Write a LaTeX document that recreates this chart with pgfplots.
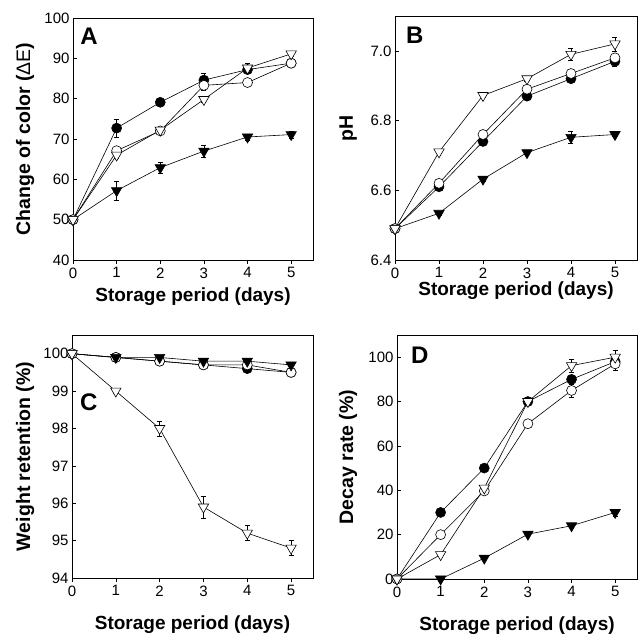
\documentclass[border=0pt]{standalone}
\usepackage{fontspec}
\setmainfont{Liberation Sans}
\usepackage{pgfplots}
\pgfplotsset{compat=1.18}
\tikzset{letter/.style={anchor=north west, inner sep=0pt, font=\fontsize{24}{24}\selectfont\bfseries}}
\pgfplotsset{
  panel/.style={
    scale only axis, clip=false,
    xmin=0, xmax=5.5, xtick={0,1,2,3,4,5},
    xtick pos=bottom, ytick pos=left,
    xtick align=outside, ytick align=inside,
    major tick length=4pt,
    axis line style={line width=0.6pt},
    tick style={line width=0.6pt, black},
    /pgf/number format/assume math mode=true,
    ticklabel style={font=\fontsize{15}{15}\selectfont},
    every axis x label/.style={at={(axis description cs:0.5,0)}, anchor=base, font=\fontsize{19}{19}\selectfont\bfseries},
    every axis y label/.style={at={(axis description cs:-0.179,0.5)}, anchor=base, rotate=90, font=\fontsize{19.5}{19.5}\selectfont\bfseries},
    cycle list={{black}},
    every axis plot/.append style={line width=0.6pt, black},
    error bars/y dir=both, error bars/y explicit,
    error bars/error bar style={line width=0.5pt, black},
    error bars/error mark options={rotate=90, mark size=2.5pt, line width=0.5pt, black},
  },
  fc/.style={black, mark=*, mark size=5pt, mark options={fill=black, draw=black, solid}},
  oc/.style={black, mark=*, mark size=5pt, mark options={fill=white, draw=black, solid}},
  ft/.style={black, mark=triangle*, mark size=6pt, mark options={rotate=180, fill=black, draw=black, solid}},
  ot/.style={black, mark=triangle*, mark size=6pt, mark options={rotate=180, fill=white, draw=black, solid}},
}
\begin{document}
\begin{tikzpicture}
\path[use as bounding box] (0,0) rectangle (638pt,634pt);
% Panel A
\begin{axis}[panel, at={(73pt,374pt)}, anchor=south west, width=240pt, height=242pt,
  ymin=40, ymax=100, ytick={40,50,...,100},
  xlabel={Storage period (days)}, x label style={yshift=-42pt},
  ylabel={Change of color (\textmd{ΔE})}]
\addplot[fc] coordinates {(0,50) +- (0,0) (1,72.7) +- (0,2.2) (2,79.1) +- (0,0.6) (3,84.6) +- (0,1.8) (4,87.2) +- (0,1) (5,88.8) +- (0,0.6)};
\addplot[oc] coordinates {(0,50) +- (0,0) (1,67.1) +- (0,0.8) (2,72.0) +- (0,0.6) (3,83.3) +- (0,1.2) (4,84.0) +- (0,0.8) (5,88.8) +- (0,0.6)};
\addplot[ft] coordinates {(0,50) +- (0,0) (1,57.2) +- (0,2.3) (2,62.9) +- (0,1.3) (3,67.0) +- (0,1.5) (4,70.5) +- (0,0.8) (5,71.1) +- (0,0.8)};
\addplot[ot] coordinates {(0,50) +- (0,0) (1,66.0) +- (0,0.8) (2,72.2) +- (0,0.6) (3,79.8) +- (0,0.8) (4,87.6) +- (0,1.1) (5,91.1) +- (0,0.6)};
\node[letter] at (rel axis cs:0.03,0.959) {A};
\end{axis}
% Panel B
\begin{axis}[panel, at={(395pt,374pt)}, anchor=south west, width=242pt, height=244pt,
  ymin=6.4, ymax=7.1, ytick={6.4,6.6,6.8,7.0},
  yticklabel style={/pgf/number format/.cd, fixed, fixed zerofill, precision=1},
  y label style={at={(axis description cs:-0.174,0.54)}},
  xlabel={Storage period (days)}, x label style={yshift=-36pt},
  ylabel={pH}]
\addplot[fc] coordinates {(0,6.49) +- (0,0) (1,6.61) +- (0,0.005) (2,6.74) +- (0,0.005) (3,6.87) +- (0,0.01) (4,6.92) +- (0,0.005) (5,6.97) +- (0,0.015)};
\addplot[oc] coordinates {(0,6.49) +- (0,0) (1,6.62) +- (0,0.005) (2,6.76) +- (0,0.005) (3,6.89) +- (0,0.005) (4,6.935) +- (0,0.005) (5,6.98) +- (0,0.01)};
\addplot[ft] coordinates {(0,6.49) +- (0,0) (1,6.534) +- (0,0.005) (2,6.632) +- (0,0.005) (3,6.708) +- (0,0.005) (4,6.752) +- (0,0.018) (5,6.76) +- (0,0.005)};
\addplot[ot] coordinates {(0,6.49) +- (0,0) (1,6.71) +- (0,0.005) (2,6.872) +- (0,0.005) (3,6.92) +- (0,0.008) (4,6.99) +- (0,0.018) (5,7.02) +- (0,0.02)};
\node[letter] at (rel axis cs:0.045,0.955) {B};
\end{axis}
% Panel C
\begin{axis}[panel, at={(72pt,56pt)}, anchor=south west, width=241pt, height=243pt,
  ymin=94, ymax=100.5, ytick={94,95,...,100},
  xlabel={Storage period (days)}, x label style={yshift=-52pt},
  y label style={at={(axis description cs:-0.174,0.5)}},
  ylabel={Weight retention (\%)}]
\addplot[fc] coordinates {(0,100) +- (0,0) (1,99.9) +- (0,0.03) (2,99.8) +- (0,0.03) (3,99.7) +- (0,0.03) (4,99.6) +- (0,0.03) (5,99.5) +- (0,0.03)};
\addplot[oc] coordinates {(0,100) +- (0,0) (1,99.9) +- (0,0.03) (2,99.8) +- (0,0.03) (3,99.7) +- (0,0.03) (4,99.7) +- (0,0.03) (5,99.5) +- (0,0.03)};
\addplot[ft] coordinates {(0,100) +- (0,0) (1,99.9) +- (0,0.03) (2,99.9) +- (0,0.03) (3,99.8) +- (0,0.03) (4,99.8) +- (0,0.03) (5,99.7) +- (0,0.03)};
\addplot[ot] coordinates {(0,100) +- (0,0) (1,99.0) +- (0,0.05) (2,98.0) +- (0,0.2) (3,95.9) +- (0,0.3) (4,95.2) +- (0,0.2) (5,94.8) +- (0,0.2)};
\node[letter] at (rel axis cs:0.033,0.761) {C};
\end{axis}
% Panel D
\begin{axis}[panel, at={(397pt,55pt)}, anchor=south west, width=240pt, height=244pt,
  ymin=0, ymax=110, ytick={0,20,...,100},
  xlabel={Storage period (days)}, x label style={yshift=-52pt},
  y label style={at={(axis description cs:-0.183,0.5)}},
  ylabel={Decay rate (\%)}]
\addplot[fc] coordinates {(0,0) +- (0,0) (1,30) +- (0,0.5) (2,50) +- (0,0.5) (3,80) +- (0,0.5) (4,90) +- (0,2) (5,98) +- (0,2)};
\addplot[oc] coordinates {(0,0) +- (0,0) (1,20) +- (0,0.5) (2,39.7) +- (0,0.5) (3,70) +- (0,0.5) (4,85) +- (0,3) (5,97) +- (0,3)};
\addplot[ft] coordinates {(0,0) +- (0,0) (1,0) +- (0,0) (2,9.4) +- (0,0.5) (3,20.2) +- (0,0.5) (4,24) +- (0,0.5) (5,30) +- (0,1.5)};
\addplot[ot] coordinates {(0,0) +- (0,0) (1,11) +- (0,0.5) (2,41) +- (0,0.5) (3,80) +- (0,0.5) (4,96.2) +- (0,3) (5,100) +- (0,3)};
\node[letter] at (rel axis cs:0.058,0.951) {D};
\end{axis}
\end{tikzpicture}
\end{document}
